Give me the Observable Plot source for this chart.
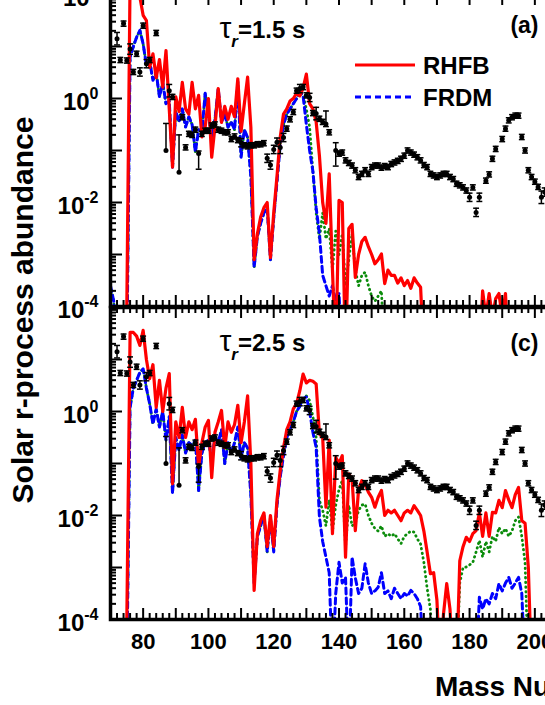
<!DOCTYPE html>
<html><head><meta charset="utf-8">
<script src="https://cdn.jsdelivr.net/npm/d3@7"></script>
<script src="https://cdn.jsdelivr.net/npm/@observablehq/plot@0.6"></script>
<style>
html,body{margin:0;padding:0;background:#fff;}
#fig{position:relative;width:545px;height:705px;overflow:hidden;background:#fff;font-family:"Liberation Sans",Arial,sans-serif;font-weight:bold;color:#000;}
.panel{position:absolute;left:0;}
#ylab{position:absolute;left:-187px;top:290px;width:420px;height:40px;line-height:40px;text-align:center;font-size:30px;transform:rotate(-90deg);white-space:nowrap;}
#xlab{position:absolute;left:435px;top:673px;font-size:28px;line-height:28px;white-space:nowrap;}
#legend{position:absolute;left:353px;top:50px;}
</style></head><body>
<div id="fig">
  <div id="top" class="panel" style="top:-12px"></div>
  <div id="bot" class="panel" style="top:301px"></div>
  <div id="ylab">Solar r-process abundance</div>
  <div id="xlab">Mass Number</div>
  <div id="legend">
    <svg width="190" height="70" style="overflow:visible;font-family:'Liberation Sans',Arial,sans-serif;font-weight:bold">
      <line x1="2" x2="62" y1="15" y2="15" stroke="#ff0000" stroke-width="3"/>
      <text x="70" y="24" font-size="24">RHFB</text>
      <line x1="2" x2="62" y1="47" y2="47" stroke="#0000ff" stroke-width="3" stroke-dasharray="6,4"/>
      <text x="70" y="56" font-size="24">FRDM</text>
    </svg>
  </div>
</div>
<script>
// ---------- data (log10 of abundance) ----------
const massNumbers = d3.range(70, 206); // integer mass-number grid A = 70..205

// Solar r-process abundances (same in both panels)
const solarA    = [72,73,74,75,76,77,78,79,80,81,82,84,87,88,89,91,92,93,94,95,96,97,98,99,100,101,102,103,104,105,106,107,108,109,110,111,112,113,114,115,116,117,118,119,120,121,122,123,124,125,126,127,128,129,130,131,132,133,134,135,136,137,139,140,141,142,143,144,145,146,147,148,149,150,151,152,153,154,155,156,157,158,159,160,161,162,163,164,165,166,167,168,169,170,171,172,173,174,175,176,177,178,179,180,181,182,183,185,186,187,188,190,191,192,193,194,195,196,197,198,199,200,201,202,203];
const solarLog  = [1.15,0.74,1.44,0.73,0.95,0.51,0.86,0.51,1.40,0.67,0.74,1.26,-1.00,0.15,0.03,-1.42,-0.36,-0.94,-0.68,-0.70,-0.60,-1.06,-0.68,-0.62,-0.62,-0.52,-0.50,-0.60,-0.62,-0.65,-0.65,-0.78,-0.73,-0.80,-0.85,-0.90,-0.92,-0.90,-0.90,-0.88,-0.88,-0.86,-1.15,-1.28,-0.98,-0.84,-0.94,-0.75,-0.58,-0.40,-0.26,0.15,0.19,0.22,0.06,0.02,-0.28,-0.29,-0.39,-0.45,-0.49,-0.65,-1.00,-1.06,-1.04,-1.19,-1.24,-1.29,-1.38,-1.51,-1.45,-1.38,-1.45,-1.32,-1.29,-1.29,-1.33,-1.30,-1.32,-1.26,-1.23,-1.20,-1.16,-1.10,-1.00,-1.04,-1.08,-1.13,-1.19,-1.28,-1.32,-1.45,-1.48,-1.51,-1.48,-1.45,-1.45,-1.51,-1.55,-1.64,-1.67,-1.71,-1.77,-1.90,-1.71,-2.19,-1.90,-1.58,-1.46,-1.16,-0.97,-0.78,-0.58,-0.42,-0.36,-0.33,-0.33,-0.74,-1.00,-1.38,-1.51,-1.60,-1.70,-1.90,-1.80];
const solarErrHi= [0.12,0.05,0.05,0.05,0.10,0.05,0.05,0.08,0.05,0.08,0.05,0.05,0.52,0.12,0.05,0.72,0.05,0.05,0.05,0.05,0.05,0.05,0.05,0.05,0.05,0.05,0.05,0.05,0.05,0.05,0.05,0.05,0.05,0.05,0.08,0.05,0.05,0.05,0.05,0.05,0.05,0.05,0.08,0.08,0.08,0.08,0.12,0.08,0.05,0.05,0.05,0.05,0.08,0.05,0.05,0.08,0.05,0.12,0.05,0.05,0.25,0.05,0.15,0.05,0.05,0.05,0.05,0.05,0.05,0.05,0.05,0.05,0.05,0.05,0.05,0.05,0.05,0.05,0.05,0.05,0.05,0.05,0.05,0.05,0.05,0.05,0.05,0.05,0.05,0.05,0.05,0.05,0.05,0.05,0.05,0.05,0.05,0.05,0.05,0.05,0.05,0.05,0.05,0.08,0.05,0.08,0.08,0.05,0.05,0.05,0.05,0.05,0.05,0.05,0.05,0.05,0.05,0.05,0.05,0.05,0.05,0.05,0.05,0.12,0.08];
const solarErrLo= [0.12,0.05,0.05,0.05,0.10,0.05,0.05,0.08,0.05,0.08,0.05,0.05,0.00,0.12,0.05,0.00,0.05,0.05,0.05,0.05,0.05,0.30,0.05,0.05,0.05,0.05,0.05,0.05,0.05,0.05,0.05,0.05,0.05,0.05,0.08,0.05,0.05,0.05,0.05,0.05,0.05,0.05,0.08,0.08,0.08,0.08,0.12,0.08,0.05,0.05,0.05,0.05,0.08,0.05,0.05,0.08,0.05,0.12,0.05,0.05,0.05,0.05,0.30,0.05,0.05,0.05,0.05,0.05,0.05,0.05,0.05,0.05,0.05,0.05,0.05,0.05,0.05,0.05,0.05,0.05,0.05,0.05,0.05,0.05,0.05,0.05,0.05,0.05,0.05,0.05,0.05,0.05,0.05,0.05,0.05,0.05,0.05,0.05,0.05,0.05,0.05,0.05,0.05,0.08,0.05,0.08,0.08,0.05,0.05,0.05,0.05,0.05,0.05,0.05,0.05,0.05,0.05,0.05,0.05,0.05,0.05,0.05,0.05,0.12,0.08];

// Panel (a): tau_r = 1.5 s   (values from A = 70 upward; -5 = below the axis)
const rhfbTop = [
 -5,-5,-5,-5,-5,-4.0,2.3,2.5,2.4,1.95,
 1.6,1.5,0.6,0.86,0.4,0.75,0.22,0.92,-0.2,-1.32,
 0.03,-0.25,0.31,-0.2,-0.3,0.31,-0.2,0.06,-0.74,-0.55,
 0.0,-1.13,-0.55,0.19,-0.46,-0.15,-0.4,-0.15,-0.35,0.38,
 -0.63,-0.1,0.41,-0.55,-3.1,-2.6,-2.28,-2.1,-2.0,-3.06,
 -2.2,-1.5,-0.74,-0.3,-0.2,-0.05,0.0,0.1,0.05,0.2,
 0.47,-0.1,-0.2,-0.45,-1.1,-2.0,-2.4,-1.45,-3.3,-5,
 -1.96,-2.0,-5,-2.5,-2.42,-3.44,-3.0,-2.75,-2.67,-2.85,
 -3.0,-3.18,-3.1,-2.99,-3.56,-3.3,-3.4,-3.4,-3.55,-3.45,
 -3.6,-3.5,-3.65,-3.45,-3.55,-3.63,-5,-5,-5,-5,
 -5,-5,-5,-5,-5,-5,-5,-5,-5,-5,
 -5,-5,-5,-5,-3.7,-4.2,-3.75,-4.2,-3.85,-3.75,
 -4.2,-3.75,-5];
const frdmTop = [
 -3.6,-3.9,-5,-5,-5,-5,0.8,1.0,1.18,1.31,
 1.05,0.64,0.72,0.35,0.5,0.03,0.3,-0.1,-0.05,-1.32,
 -0.25,-0.45,-0.2,-0.55,-0.35,-0.5,-1.03,-0.6,-0.65,0.1,
 -0.3,-0.75,-0.4,0.19,-0.45,-0.3,-0.55,-0.45,-0.6,0.32,
 -1.13,-0.6,-0.75,-1.5,-3.25,-2.65,-2.4,-2.2,-2.1,-3.1,
 -2.3,-1.6,-0.9,-0.5,-0.3,-0.2,-0.1,0.0,0.12,0.05,
 -0.5,-1.0,-1.4,-2.1,-2.6,-3.4,-3.6,-3.8,-3.6,-3.9,
 -3.75,-5];
const thirdTop = [
 -3.6,-3.9,-5,-5,-5,-5,0.8,1.0,1.18,1.31,
 1.05,0.64,0.72,0.35,0.5,0.03,0.3,-0.1,-0.05,-1.32,
 -0.25,-0.45,-0.2,-0.55,-0.35,-0.5,-1.03,-0.6,-0.65,0.1,
 -0.3,-0.75,-0.4,0.19,-0.45,-0.3,-0.55,-0.45,-0.6,0.32,
 -1.13,-0.6,-0.75,-1.5,-3.25,-2.65,-2.4,-2.2,-2.1,-3.1,
 -2.3,-1.6,-0.9,-0.5,-0.3,-0.2,-0.1,0.0,0.12,0.05,
 -0.2,-0.55,-1.4,-2.2,-2.7,-2.2,-2.7,-2.5,-3.3,-2.55,
 -3.0,-2.6,-3.6,-3.1,-2.6,-3.3,-3.6,-3.4,-3.34,-3.6,
 -3.8,-3.9,-3.8,-3.7,-5];

// Panel (c): tau_r = 2.5 s
const rhfbBot = [
 -5,-5,-5,-5,-5,-4.0,1.52,1.52,1.45,1.27,
 1.56,1.0,0.63,0.9,0.08,0.6,0.0,0.45,0.73,-1.39,
 -0.2,-0.5,0.08,-0.5,-0.2,-0.35,-0.15,-1.07,-0.6,-0.3,
 -0.17,-1.27,-0.4,-0.2,0.02,-0.7,-0.2,-0.4,-0.25,0.12,
 -0.6,-0.2,0.3,-1.0,-3.44,-2.35,-2.1,-1.95,-2.6,-2.0,
 -2.6,-1.7,-1.13,-0.7,-0.35,-0.2,0.05,0.15,0.4,0.72,
 0.55,0.6,0.58,0.53,-0.43,-0.5,-1.84,-0.55,-2.35,-0.88,
 -1.0,-0.85,-2.8,-1.2,-1.3,-2.29,-1.5,-1.33,-1.4,-1.55,
 -1.65,-1.84,-1.65,-1.52,-2.0,-1.9,-1.95,-1.9,-2.0,-2.1,
 -1.95,-1.9,-1.95,-1.81,-1.9,-2.0,-2.3,-2.7,-3.12,-3.1,
 -3.63,-5,-3.9,-3.31,-3.8,-5,-5,-2.87,-2.6,-2.42,
 -2.5,-2.35,-2.29,-1.95,-2.4,-1.95,-2.4,-1.94,-1.95,-1.71,
 -1.85,-1.52,-1.7,-1.85,-1.6,-1.46,-2.1,-2.15,-3.0,-5];
const frdmBot = [
 -5,-5,-5,-5,-5,-5,0.08,0.45,0.6,0.75,
 0.82,0.45,0.15,-0.24,0.05,-0.3,0.0,-0.55,-0.1,-1.58,
 -0.5,-0.75,-0.45,-0.8,-0.6,-0.65,-0.55,-1.52,-0.8,-0.6,
 -0.55,-0.95,-0.5,-0.6,-0.35,-1.0,-0.6,-0.8,-0.6,-0.3,
 -0.9,-0.6,-0.7,-1.6,-3.3,-2.4,-2.2,-2.0,-2.7,-2.05,
 -2.7,-1.8,-1.25,-0.85,-0.5,-0.35,-0.2,0.0,0.1,0.25,
 0.28,0.0,-0.4,-0.69,-2.03,-2.5,-2.8,-3.1,-5,-3.5,
 -2.9,-3.3,-3.19,-5,-2.8,-3.2,-3.5,-3.4,-2.93,-3.3,
 -3.5,-3.45,-3.38,-3.1,-3.5,-3.45,-3.6,-3.4,-3.5,-3.6,
 -3.5,-3.55,-3.44,-3.5,-3.6,-3.75,-5,-5,-5,-5,
 -5,-5,-5,-5,-5,-5,-5,-5,-5,-5,
 -5,-5,-5,-3.57,-3.8,-3.6,-3.7,-3.5,-3.6,-3.31,
 -3.45,-3.3,-3.19,-3.4,-3.3,-3.19,-3.5,-5];
const thirdBot = [
 -5,-5,-5,-5,-5,-5,0.08,0.45,0.6,0.75,
 0.82,0.45,0.15,-0.24,0.05,-0.3,0.0,-0.55,-0.1,-1.58,
 -0.5,-0.75,-0.45,-0.8,-0.6,-0.65,-0.55,-1.52,-0.8,-0.6,
 -0.55,-0.95,-0.5,-0.6,-0.35,-1.0,-0.6,-0.8,-0.6,-0.3,
 -0.9,-0.6,-0.7,-1.6,-3.3,-2.4,-2.2,-2.0,-2.7,-2.05,
 -2.7,-1.8,-1.25,-0.85,-0.5,-0.35,-0.2,0.0,0.1,0.25,
 0.3,0.21,-0.1,-0.5,-1.71,-1.9,-2.2,-1.7,-2.3,-1.8,
 -1.5,-1.33,-2.6,-1.8,-2.2,-2.15,-1.9,-1.8,-1.78,-2.0,
 -2.15,-2.25,-2.3,-2.2,-2.4,-2.35,-2.4,-2.35,-2.45,-2.54,
 -2.4,-2.35,-2.3,-2.32,-2.45,-2.55,-2.9,-3.4,-3.8,-5,
 -5,-5,-5,-5,-5,-5,-5,-3.3,-3.0,-2.99,
 -2.95,-2.9,-2.7,-2.48,-2.8,-2.5,-2.7,-2.4,-2.5,-2.23,
 -2.35,-2.25,-2.4,-2.3,-2.1,-2.03,-2.4,-2.9,-5];

const xTickLabels = [80,100,120,140,160,180,200];
const yLabelExpTop = [2,0,-2,-4];
const yLabelExpBot = [0,-2,-4];

// ---------- drawing ----------
const W = 577, ML = 110, MR = 10, IH = 312;
const IW = W - ML - MR;
const xMajor = d3.range(80, 210, 10);
const xMinor = d3.range(72, 210, 2).filter(d => d % 10 !== 0);
const yMajor = d3.range(-4, 3).map(k => 10 ** k);
const yMinor = [];
for (let k = -4; k < 2; k++) for (let m = 2; m <= 9; m++) yMinor.push(m * 10 ** k);

const solarRows = solarA.map((A, i) => ({
  A, v: 10 ** solarLog[i],
  hi: 10 ** (solarLog[i] + solarErrHi[i]),
  lo: 10 ** (solarLog[i] - solarErrLo[i]),
  eh: solarErrHi[i], el: solarErrLo[i]
}));
const rows = arr => arr.map((L, i) => ({A: massNumbers[i], v: 10 ** L}));

const FONT = "'Liberation Sans', Arial, sans-serif";

function panel({red, blue, green, tau, tag, tagDy, yExps, xLabels, marginBottom}) {
  const marks = [
    Plot.line(rows(green), {x: "A", y: "v", stroke: "#0b8c0b", strokeWidth: 2.8, strokeDasharray: "0.5,4.2", strokeLinecap: "round", clip: true}),
    Plot.line(rows(blue), {x: "A", y: "v", stroke: "#0000ff", strokeWidth: 3, strokeDasharray: "6,4", clip: true}),
    Plot.line(rows(red), {x: "A", y: "v", stroke: "#ff0000", strokeWidth: 3.2, clip: true}),
    Plot.ruleX(solarRows, {x: "A", y1: "lo", y2: "hi", stroke: "black", strokeWidth: 1.5, clip: true}),
    Plot.link(solarRows.filter(d => d.eh > 0), {x1: d => d.A - 0.9, x2: d => d.A + 0.9, y1: "hi", y2: "hi", stroke: "black", strokeWidth: 1.5, clip: true}),
    Plot.link(solarRows.filter(d => d.el > 0), {x1: d => d.A - 0.9, x2: d => d.A + 0.9, y1: "lo", y2: "lo", stroke: "black", strokeWidth: 1.5, clip: true}),
    Plot.dot(solarRows, {x: "A", y: "v", r: 2.5, fill: "black", stroke: "none", clip: true}),
    // ticks (inward) bottom and top
    Plot.tickX(xMajor, {x: d => d, insetTop: IH - 11, stroke: "black", strokeWidth: 2}),
    Plot.tickX(xMinor, {x: d => d, insetTop: IH - 6, stroke: "black", strokeWidth: 2}),
    Plot.tickX(xMajor, {x: d => d, insetBottom: IH - 11, stroke: "black", strokeWidth: 2}),
    Plot.tickX(xMinor, {x: d => d, insetBottom: IH - 6, stroke: "black", strokeWidth: 2}),
    // ticks left (inward)
    Plot.tickY(yMajor, {y: d => d, insetRight: IW - 12, stroke: "black", strokeWidth: 2}),
    Plot.tickY(yMinor, {y: d => d, insetRight: IW - 6, stroke: "black", strokeWidth: 2}),
    Plot.frame({stroke: "black", strokeWidth: 3.5}),
    Plot.text(yExps, {y: d => 10 ** d, text: d => "10^" + d, frameAnchor: "left", lineAnchor: "middle", textAnchor: "end", dx: -12, dy: 4, fontSize: 24, fontWeight: "bold", fill: "black"}),
    Plot.text([tau], {frameAnchor: "top-left", lineAnchor: "middle", dx: 109, dy: 36, textAnchor: "start", fontSize: 24, fontWeight: "bold", fill: "black"}),
    Plot.text([tag], {frameAnchor: "top-right", lineAnchor: "middle", dx: -29, dy: tagDy, textAnchor: "end", fontSize: 23, fontWeight: "bold", fill: "black"})
  ];
  if (xLabels) marks.push(Plot.text(xLabels, {x: d => d, text: d => String(d), frameAnchor: "bottom", lineAnchor: "top", dy: 14, fontSize: 22, fontWeight: "bold", fill: "black"}));
  const svg = Plot.plot({
    width: W, height: 6 + IH + marginBottom,
    marginLeft: ML, marginRight: MR, marginTop: 6, marginBottom,
    style: `background:transparent;max-width:none;overflow:visible;font-family:${FONT};font-weight:bold;`,
    x: {domain: [70, 210], axis: null},
    y: {type: "log", domain: [1e-4, 1e2], axis: null},
    marks
  });
  fixText(svg);
  return svg;
}

function fixText(svg) {
  const ns = "http://www.w3.org/2000/svg";
  const add = (p, s, attrs = {}) => { const e = document.createElementNS(ns, "tspan"); e.textContent = s; for (const k in attrs) e.setAttribute(k, attrs[k]); p.appendChild(e); return e; };
  svg.querySelectorAll("text").forEach(t => {
    const s = t.textContent;
    let m = s.match(/^10\^(-?\d+)$/);
    if (m) { t.textContent = ""; add(t, "10"); add(t, m[1], {dy: "-11", "font-size": "16"}); return; }
    m = s.match(/^τ_r(.*)$/);
    if (m) { t.textContent = ""; add(t, "τ", {"font-size": "30", "font-weight": "normal"}); add(t, "r", {dy: "9", "font-size": "17", "font-style": "italic"}); add(t, m[1], {dy: "-9"}); }
  });
}

document.getElementById("top").appendChild(panel({red: rhfbTop, blue: frdmTop, green: thirdTop, tau: "τ_r=1.5 s", tag: "(a)", tagDy: 31, yExps: yLabelExpTop, xLabels: null, marginBottom: 6}));
document.getElementById("bot").appendChild(panel({red: rhfbBot, blue: frdmBot, green: thirdBot, tau: "τ_r=2.5 s", tag: "(c)", tagDy: 36, yExps: yLabelExpBot, xLabels: xTickLabels, marginBottom: 60}));
</script>
</body></html>
